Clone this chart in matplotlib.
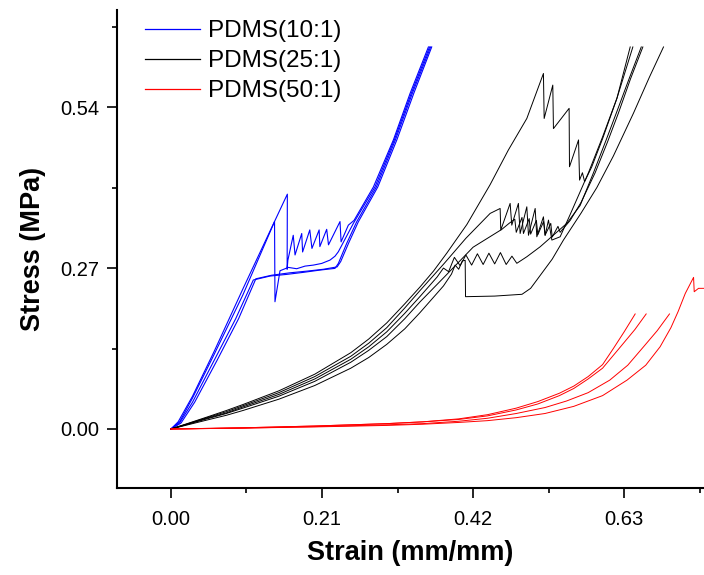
import matplotlib
matplotlib.use("Agg")
import matplotlib.pyplot as plt
from matplotlib.lines import Line2D
from matplotlib.ticker import MultipleLocator, FormatStrFormatter

plt.rcParams['font.family'] = ['Liberation Sans', 'DejaVu Sans']

# ---------------- PDMS(10:1) (blue) ----------------
b1_strain = [0, 0.01, 0.03, 0.06, 0.10, 0.1618, 0.1615, 0.1625, 0.170, 0.1725, 0.1818, 0.183, 0.193, 0.196,
             0.206, 0.207, 0.2165, 0.219, 0.235, 0.2365, 0.2466, 0.2545, 0.2814, 0.3092, 0.3324, 0.3579]
b1_stress = [0, 0.012, 0.055, 0.13, 0.235, 0.394, 0.268, 0.283, 0.325, 0.292, 0.328, 0.297, 0.334, 0.303,
             0.334, 0.306, 0.335, 0.309, 0.348, 0.314, 0.342, 0.350, 0.406, 0.485, 0.563, 0.641]
b2_strain = [0, 0.012, 0.03, 0.06, 0.10, 0.144, 0.1446, 0.1516, 0.1632, 0.1748, 0.1864, 0.198, 0.2096,
             0.2211, 0.2281, 0.2327, 0.2536, 0.2835, 0.3105, 0.3340, 0.3595]
b2_stress = [0, 0.012, 0.052, 0.125, 0.225, 0.348, 0.2135, 0.2655, 0.2711, 0.2689, 0.2733, 0.275, 0.2778,
             0.2834, 0.290, 0.2974, 0.345, 0.406, 0.485, 0.563, 0.641]
b3_strain = [0, 0.012, 0.03, 0.06, 0.09, 0.1145, 0.1377, 0.1609, 0.184, 0.207, 0.228, 0.2327, 0.2443,
             0.2582, 0.2855, 0.3120, 0.3355, 0.3610]
b3_stress = [0, 0.01, 0.045, 0.115, 0.185, 0.25, 0.2566, 0.2594, 0.2628, 0.2666, 0.2695, 0.2778, 0.3114,
             0.3477, 0.406, 0.485, 0.563, 0.641]
b4_strain = [0, 0.014, 0.033, 0.064, 0.094, 0.118, 0.14, 0.165, 0.19, 0.212, 0.231, 0.236, 0.247,
             0.2605, 0.2875, 0.3140, 0.3375, 0.3625]
b4_stress = [0, 0.01, 0.045, 0.115, 0.185, 0.252, 0.258, 0.262, 0.265, 0.268, 0.272, 0.281, 0.312,
             0.3477, 0.406, 0.485, 0.563, 0.641]

# ---------------- PDMS(25:1) (black) ----------------
k1_strain = [0, 0.02, 0.05, 0.077, 0.1, 0.15, 0.2, 0.25, 0.275, 0.3, 0.325, 0.346, 0.365, 0.3834, 0.4113,
             0.4437, 0.469, 0.4947, 0.5178, 0.5188, 0.5308, 0.5317, 0.5535, 0.554, 0.5666, 0.568, 0.572,
             0.575, 0.585, 0.60, 0.62, 0.6384]
k1_stress = [0, 0.008, 0.02, 0.031, 0.041, 0.064, 0.092, 0.128, 0.151, 0.178, 0.21, 0.238, 0.265, 0.295,
             0.343, 0.41, 0.468, 0.521, 0.5965, 0.521, 0.577, 0.504, 0.538, 0.44, 0.485, 0.4176, 0.43,
             0.415, 0.44, 0.487, 0.555, 0.641]
k2_strain = [0, 0.02, 0.05, 0.077, 0.1, 0.15, 0.2, 0.25, 0.275, 0.3, 0.325, 0.346, 0.38, 0.41, 0.4437,
             0.4576, 0.4585, 0.4715, 0.4738, 0.483, 0.4854, 0.4947, 0.497, 0.5063, 0.5086, 0.5178, 0.5202,
             0.5248, 0.5295, 0.541, 0.555, 0.5804, 0.60, 0.62, 0.6421]
k2_stress = [0, 0.0075, 0.019, 0.029, 0.039, 0.061, 0.088, 0.122, 0.144, 0.17, 0.203, 0.232, 0.278, 0.32,
             0.3617, 0.370, 0.3337, 0.3785, 0.342, 0.3785, 0.328, 0.3728, 0.325, 0.370, 0.3225, 0.356,
             0.325, 0.3505, 0.317, 0.3225, 0.36, 0.43, 0.49, 0.555, 0.641]
k3_strain = [0, 0.02, 0.05, 0.077, 0.1, 0.15, 0.2, 0.25, 0.275, 0.3, 0.325, 0.346, 0.37, 0.3788, 0.386,
             0.394, 0.402, 0.410, 0.418, 0.426, 0.434, 0.442, 0.450, 0.458, 0.466, 0.474, 0.4808, 0.4947,
             0.5132, 0.5317, 0.5503, 0.5688, 0.5874, 0.605, 0.62, 0.637, 0.6538]
k3_stress = [0, 0.007, 0.018, 0.027, 0.037, 0.058, 0.084, 0.117, 0.138, 0.163, 0.194, 0.222, 0.255, 0.27,
             0.264, 0.288, 0.274, 0.292, 0.275, 0.294, 0.276, 0.295, 0.277, 0.296, 0.276, 0.29, 0.278,
             0.289, 0.3057, 0.3253, 0.345, 0.375, 0.43, 0.485, 0.533, 0.588, 0.641]
k4_strain = [0, 0.02, 0.05, 0.077, 0.1, 0.15, 0.2, 0.25, 0.275, 0.3, 0.325, 0.346, 0.38, 0.42, 0.46,
             0.47, 0.478, 0.48, 0.488, 0.49, 0.498, 0.50, 0.508, 0.51, 0.518, 0.52, 0.528, 0.53, 0.538,
             0.541, 0.555, 0.57, 0.5897, 0.607, 0.622, 0.639, 0.656]
k4_stress = [0, 0.0068, 0.017, 0.026, 0.035, 0.055, 0.08, 0.112, 0.132, 0.155, 0.185, 0.213, 0.255, 0.305,
             0.335, 0.345, 0.352, 0.33, 0.355, 0.328, 0.353, 0.327, 0.35, 0.326, 0.348, 0.325, 0.345, 0.322,
             0.34, 0.33, 0.35, 0.38, 0.43, 0.482, 0.53, 0.588, 0.641]
k5_strain = [0, 0.02, 0.05, 0.077, 0.1, 0.15, 0.2, 0.25, 0.275, 0.3, 0.325, 0.346, 0.3788, 0.39, 0.395,
             0.40, 0.405, 0.409, 0.4095, 0.45, 0.488, 0.50, 0.5086, 0.53, 0.5456, 0.57, 0.592, 0.615, 0.643,
             0.665, 0.6847]
k5_stress = [0, 0.006, 0.015, 0.023, 0.031, 0.05, 0.073, 0.102, 0.12, 0.142, 0.168, 0.195, 0.24, 0.26,
             0.275, 0.268, 0.282, 0.283, 0.222, 0.223, 0.226, 0.236, 0.25, 0.285, 0.317, 0.362, 0.405,
             0.458, 0.53, 0.59, 0.641]

# ---------------- PDMS(50:1) (red) ----------------
r1_strain = [0, 0.1, 0.2, 0.3, 0.35, 0.4, 0.44, 0.48, 0.51, 0.54, 0.56, 0.58, 0.60, 0.615, 0.63, 0.6453]
r1_stress = [0, 0.002, 0.005, 0.009, 0.012, 0.017, 0.024, 0.035, 0.046, 0.06, 0.072, 0.088, 0.108, 0.135,
             0.163, 0.193]
r2_strain = [0, 0.1, 0.2, 0.3, 0.35, 0.4, 0.44, 0.48, 0.51, 0.54, 0.56, 0.58, 0.60, 0.625, 0.645, 0.6606]
r2_stress = [0, 0.002, 0.005, 0.009, 0.012, 0.016, 0.022, 0.032, 0.042, 0.056, 0.068, 0.084, 0.102, 0.138,
             0.167, 0.193]
r3_strain = [0, 0.1, 0.2, 0.3, 0.35, 0.4, 0.44, 0.48, 0.52, 0.55, 0.58, 0.61, 0.635, 0.657, 0.676, 0.693]
r3_stress = [0, 0.0015, 0.004, 0.007, 0.009, 0.013, 0.018, 0.026, 0.036, 0.047, 0.061, 0.082, 0.107, 0.138,
             0.165, 0.193]
r4_strain = [0, 0.1, 0.2, 0.3, 0.35, 0.4, 0.44, 0.48, 0.52, 0.56, 0.60, 0.634, 0.66, 0.68, 0.695, 0.705,
             0.715, 0.7265, 0.7274, 0.7334, 0.741, 0.76]
r4_stress = [0, 0.0015, 0.0035, 0.006, 0.008, 0.011, 0.014, 0.019, 0.026, 0.038, 0.056, 0.082, 0.107,
             0.138, 0.17, 0.197, 0.2275, 0.2544, 0.2303, 0.236, 0.236, 0.238]

blue_curves = [(b1_strain, b1_stress), (b2_strain, b2_stress), (b3_strain, b3_stress), (b4_strain, b4_stress)]
black_curves = [(k1_strain, k1_stress), (k2_strain, k2_stress), (k3_strain, k3_stress),
                (k4_strain, k4_stress), (k5_strain, k5_stress)]
red_curves = [(r1_strain, r1_stress), (r2_strain, r2_stress), (r3_strain, r3_stress), (r4_strain, r4_stress)]

series_labels = ["PDMS(10:1)", "PDMS(25:1)", "PDMS(50:1)"]
series_colors = ['#0000ff', '#000000', '#ff0000']
x_ticks = [0.00, 0.21, 0.42, 0.63]
y_ticks = [0.00, 0.27, 0.54]

fig = plt.figure(figsize=(7.04, 5.75), dpi=100)
ax = fig.add_axes([117 / 704, 1 - 488 / 575, 1 - 117 / 704, (488 - 10) / 575])

for x, y in blue_curves:
    ax.plot(x, y, color=series_colors[0], lw=0.8)
for x, y in black_curves:
    ax.plot(x, y, color=series_colors[1], lw=0.7)
for x, y in red_curves:
    ax.plot(x, y, color=series_colors[2], lw=0.7)

ax.set_xlim(-0.075, 0.741)
ax.set_ylim(-0.099, 0.703)

ax.set_xticks(x_ticks)
ax.set_yticks(y_ticks)
ax.xaxis.set_minor_locator(MultipleLocator(0.105))
ax.yaxis.set_minor_locator(MultipleLocator(0.135))
ax.xaxis.set_major_formatter(FormatStrFormatter('%.2f'))
ax.yaxis.set_major_formatter(FormatStrFormatter('%.2f'))

for s in ['top', 'right']:
    ax.spines[s].set_visible(False)
for s in ['left', 'bottom']:
    ax.spines[s].set_linewidth(1.5)

ax.tick_params(axis='both', which='major', direction='out', length=7, width=1.2,
               labelsize=14.5, pad=6)
ax.tick_params(axis='both', which='minor', direction='out', length=3.5, width=1.2)
ax.tick_params(axis='x', which='major', pad=9)

ax.set_xlabel("Strain (mm/mm)", fontsize=19.5, fontweight='bold', labelpad=8)
ax.set_ylabel("Stress (MPa)", fontsize=19.5, fontweight='bold', labelpad=10)

handles = [Line2D([], [], color=c, lw=0.9) for c in series_colors]
leg = ax.legend(handles, series_labels, loc='upper left', bbox_to_anchor=(145 / 704, 1 - 20 / 575),
                bbox_transform=fig.transFigure, frameon=False, fontsize=17.5,
                handlelength=2.25, handletextpad=0.35, labelspacing=0.33,
                borderpad=0, borderaxespad=0)

fig.savefig("out.png", dpi=100)
